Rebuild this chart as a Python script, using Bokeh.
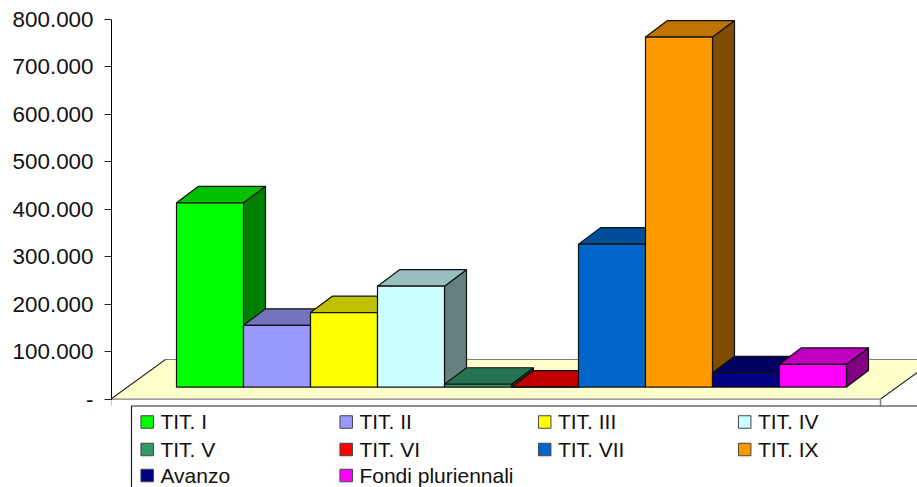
from bokeh.embed import file_html
from bokeh.models import ColumnDataSource, FixedTicker, Range1d
from bokeh.plotting import figure
from bokeh.resources import INLINE
from bokeh.core.properties import value

categories = ["TIT. I", "TIT. II", "TIT. III", "TIT. IV", "TIT. V", "TIT. VI",
              "TIT. VII", "TIT. IX", "Avanzo", "Fondi pluriennali"]
amounts = [388000, 130000, 157000, 212500, 6000, 0, 301000, 737000, 30000, 48000]
front_colors = ["#00FF00", "#9999FF", "#FFFF00", "#CCFFFF", "#339966",
                "#FF0000", "#0066CC", "#FF9900", "#000080", "#FF00FF"]
top_colors = ["#00C000", "#7373BF", "#C0C000", "#99BFBF", "#267350",
              "#C00000", "#004D99", "#BF7300", "#000060", "#C000C0"]
side_colors = ["#008000", "#4D4D80", "#808000", "#668080", "#1A4D33",
               "#800000", "#003366", "#804D00", "#000040", "#800080"]
tick_values = [0, 100000, 200000, 300000, 400000, 500000, 600000, 700000, 800000]
tick_labels = ["-", "100.000", "200.000", "300.000", "400.000",
               "500.000", "600.000", "700.000", "800.000"]

WIDTH, HEIGHT = 917, 487
AXIS_X = 111
PX_PER_UNIT_Y = 47.5 / 100000
SLOT_PX = 67.0
ZERO_PY = 398.6
FIRST_BAR_PX = 176.0


def vx(px):
    # horizontal page pixel to slot units (one slot = one bar)
    return (px - FIRST_BAR_PX) / SLOT_PX


def vy(py):
    # vertical page pixel to value units
    return (ZERO_PY - py) / PX_PER_UNIT_Y


p = figure(width=WIDTH, height=HEIGHT, output_backend="svg", toolbar_location=None,
           x_axis_type=None,
           x_range=Range1d(vx(AXIS_X), vx(WIDTH)), y_range=Range1d(vy(HEIGHT), vy(0)),
           min_border_left=AXIS_X, min_border_right=0, min_border_top=0, min_border_bottom=0)
p.grid.visible = False
p.outline_line_color = None
p.background_fill_color = "white"

ax = p.yaxis[0]
ax.ticker = FixedTicker(ticks=tick_values)
ax.major_label_overrides = dict(zip(tick_values, tick_labels))
ax.bounds = (0, 800000)
ax.major_tick_in = 0
ax.major_tick_out = 7
ax.minor_tick_line_color = None
ax.major_label_standoff = 11
ax.major_label_text_font = "Liberation Sans"
ax.major_label_text_font_size = "22.4px"
ax.major_label_text_color = "#111111"
ax.axis_line_color = "black"
ax.major_tick_line_color = "#222222"

# floor of the 3D scene
floor_front_y = 0
floor_back_y = vy(359)
p.patch([vx(110.5), vx(880), vx(934.5), vx(165)],
        [floor_front_y, floor_front_y, floor_back_y, floor_back_y],
        fill_color="#FFFFCC", line_color="#808080", line_width=1.2)
p.line([vx(110.5), vx(165)], [0, floor_back_y], line_color="#222222", line_width=1)
p.line([vx(880), vx(917)], [0, vy(372)], line_color="#222222", line_width=1)

# stubs under the floor edge, down to the legend frame
p.line([vx(110.5), vx(110.5)], [0, vy(405)], line_color="#222222", line_width=1)
p.line([vx(880), vx(880)], [0, vy(405)], line_color="#808080", line_width=1.5)

# bars, painted left to right so each overlaps its left neighbour
base = vy(386.6)
depth_x = 22.0 / SLOT_PX
depth_y = 16.5 / PX_PER_UNIT_Y
bar_w = 1.0

for i, amount in enumerate(amounts):
    x0, x1 = i, i + bar_w
    y0, y1 = base, base + amount
    xs = [[x1, x1 + depth_x, x1 + depth_x, x1],
          [x0, x1, x1 + depth_x, x0 + depth_x],
          [x0, x1, x1, x0]]
    ys = [[y0, y0 + depth_y, y1 + depth_y, y1],
          [y1, y1, y1 + depth_y, y1 + depth_y],
          [y0, y0, y1, y1]]
    src = ColumnDataSource(dict(
        xs=xs, ys=ys, fill=[side_colors[i], top_colors[i], front_colors[i]]))
    p.patches("xs", "ys", source=src, fill_color="fill", line_color="#111111", line_width=1.2)

# legend frame runs off the right and bottom of the page
p.line([vx(131), vx(131), vx(917)], [vy(487), vy(405.5), vy(405.5)],
       line_color="#222222", line_width=1.2)

# legend entries, four per row
col_px = [146.7, 345.7, 544.2, 744.2]
row_py = [421.5, 449, 475]
lx, ly, tx, ty = [], [], [], []
for i in range(len(categories)):
    col, row = i % 4, i // 4
    lx.append(vx(col_px[col]))
    ly.append(vy(row_py[row]))
    tx.append(vx(col_px[col] + 13.2))
    ty.append(vy(row_py[row] - 0.5))
p.scatter(lx, ly, marker="square", size=12.5, fill_color=front_colors,
          line_color="#444444", line_width=1)
p.text(tx, ty, text=categories, text_font=value("Liberation Sans"),
       text_font_size="21px", text_baseline="middle", text_align="left",
       text_color="#111111")

open("out.html", "w").write(file_html(p, INLINE))
